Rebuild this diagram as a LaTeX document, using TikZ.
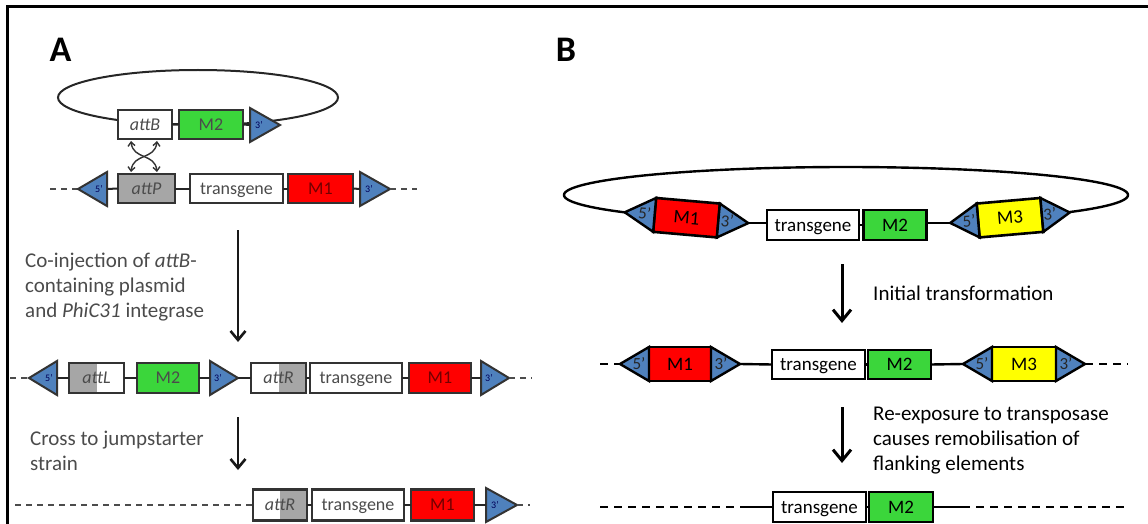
\documentclass[tikz,border=0pt]{standalone}
\usepackage{fontspec}
\setmainfont{Carlito}
\usetikzlibrary{arrows.meta,calc,shapes.geometric}
\definecolor{tblue}{RGB}{79,129,189}
\definecolor{mgreen}{RGB}{59,214,59}
\definecolor{mred}{RGB}{255,0,0}
\definecolor{myellow}{RGB}{255,255,0}
\definecolor{agray}{RGB}{166,166,166}
\definecolor{atxt}{RGB}{75,75,75}
\begin{document}
\begin{tikzpicture}[x=1pt,y=-1pt,
  boxB/.style={draw=black, line width=2.6pt, inner sep=0pt, outer sep=0pt, font=\fontsize{19}{19}\selectfont, text height=12.3pt, text depth=0pt},
  triB/.style={draw=black, line width=2.4pt, fill=tblue, line join=miter},
  tlabB/.style={inner sep=0pt, font=\fontsize{17}{17}\selectfont, text height=10.7pt, text depth=0pt, text=black!85},
  lineB/.style={line width=2.4pt},
  dashB/.style={line width=2pt, dash pattern=on 8pt off 6pt},
  arrB/.style={line width=3pt, -{Straight Barb[length=11pt,width=18pt]}},
  txt/.style={inner sep=0pt, anchor=base west, font=\fontsize{21}{25}\selectfont},
  boxA/.style={draw=black!80, line width=2.2pt, inner sep=0pt, outer sep=0pt, font=\fontsize{18}{18}\selectfont, text height=11.6pt, text depth=0pt, text=atxt},
  triA/.style={draw=black!80, line width=2pt, fill=tblue},
  tlabA/.style={inner sep=0pt, font=\fontsize{10}{10}\selectfont, text=blue!35!black},
  lineA/.style={line width=2pt, draw=black!85},
  dashA/.style={line width=1.8pt, draw=black!70, dash pattern=on 6pt off 5pt},
  arrA/.style={line width=2.6pt, draw=black!90, -{Straight Barb[length=9pt,width=15pt]}},
  grayleft/.style={path picture={\fill[agray] (path picture bounding box.south west) rectangle (path picture bounding box.north);}},
  grayright/.style={path picture={\fill[agray] (path picture bounding box.south) rectangle (path picture bounding box.north east);}},
]
\useasboundingbox (0,0) rectangle (1148,524);
% frame
\coordinate (fr0) at (7,524); \coordinate (fr1) at (7,7); \coordinate (fr2) at (1148,7);
\draw[line width=3pt] (fr0) -- (fr1) -- (fr2);
\node[font=\fontsize{36}{36}\selectfont\bfseries, inner sep=0pt] (labA) at (60.5,49.5) {A};
\node[font=\fontsize{36}{36}\selectfont\bfseries, inner sep=0pt] (labB) at (566,49.5) {B};

% ================= PANEL A =================
% plasmid
\node[draw=black!85, line width=2pt, ellipse, minimum width=280pt, minimum height=55pt, inner sep=0pt] (pAell) at (198,97.5) {};
\node[boxA, fill=white, minimum width=54pt, minimum height=29pt] (pAattb) at (145,124.5) {\textit{attB}};
\node[boxA, fill=mgreen, minimum width=64pt, minimum height=29pt] (pAm2) at (211,124.5) {M2};
\coordinate (pAt3b) at (250,125); \coordinate (pAt3) at (280,125);
\draw[triA] (250,108) -- (pAt3) -- (250,142) -- cycle;
\node[tlabA] (pAl3) at (259,125) {3’};
\draw[lineA] (pAattb.east) -- (pAm2.west);
\draw[lineA] (pAm2.east) -- (pAt3b);
% crossing arrows
\coordinate (xa1) at (131,141); \coordinate (xa2) at (157,172);
\coordinate (xb1) at (157,141); \coordinate (xb2) at (131,172);
\draw[line width=1.4pt, draw=black!80, {Straight Barb[length=4pt,width=7pt]}-{Straight Barb[length=4pt,width=7pt]}] (xa1) .. controls (133,160) and (155,153) .. (xa2);
\draw[line width=1.4pt, draw=black!80, {Straight Barb[length=4pt,width=7pt]}-{Straight Barb[length=4pt,width=7pt]}] (xb1) .. controls (155,160) and (133,153) .. (xb2);

% row A1
\coordinate (a1d0) at (50,189); \coordinate (a1t5) at (78,189); \coordinate (a1t5b) at (107,189);
\draw[dashA] (a1d0) -- (a1t5);
\draw[triA] (107,172) -- (a1t5) -- (107,206) -- cycle;
\node[tlabA] (a1l5) at (99,189) {5’};
\node[boxA, fill=agray, minimum width=57pt, minimum height=29pt] (a1attp) at (146.5,188.5) {\textit{attP}};
\node[boxA, fill=white, minimum width=93pt, minimum height=29pt] (a1tg) at (236.5,188.5) {transgene};
\node[boxA, fill=mred, minimum width=65pt, minimum height=29pt, text=red!45!black] (a1m1) at (320.5,188.5) {M1};
\coordinate (a1t3b) at (360,189); \coordinate (a1t3) at (390,189); \coordinate (a1d1) at (417,189);
\draw[triA] (360,172) -- (a1t3) -- (360,206) -- cycle;
\node[tlabA] (a1l3) at (369,189) {3’};
\draw[dashA] (a1t3) -- (a1d1);
\draw[lineA] (a1t5b) -- (a1attp.west);
\draw[lineA] (a1attp.east) -- (a1tg.west);
\draw[lineA] (a1tg.east) -- (a1m1.west);
\draw[lineA] (a1m1.east) -- (a1t3b);

% arrow A1 and text
\coordinate (aa1s) at (238,230); \coordinate (aa1e) at (238,342);
\draw[arrA] (aa1s) -- (aa1e);
\node[txt, text=atxt] (ta1) at (25,267) {Co-injection of \textit{attB}-};
\node[txt, text=atxt] (ta2) at (25,292) {containing plasmid};
\node[txt, text=atxt] (ta3) at (25,317) {and \textit{PhiC31} integrase};

% row A2
\coordinate (a2d0) at (10,378); \coordinate (a2t5) at (29,378); \coordinate (a2t5b) at (57,378);
\draw[dashA] (a2d0) -- (a2t5);
\draw[triA] (57,361) -- (a2t5) -- (57,395) -- cycle;
\node[tlabA] (a2l5) at (49,378) {5’};
\node[boxA, fill=white, grayleft, minimum width=55pt, minimum height=30pt] (a2attl) at (96.5,378) {\textit{attL}};
\node[boxA, fill=mgreen, minimum width=62pt, minimum height=30pt] (a2m2) at (168,378) {M2};
\coordinate (a2t3ab) at (210,378); \coordinate (a2t3a) at (238,378);
\draw[triA] (210,361) -- (a2t3a) -- (210,395) -- cycle;
\node[tlabA] (a2l3a) at (218,378) {3’};
\node[boxA, fill=white, grayright, minimum width=55pt, minimum height=30pt] (a2attr) at (278.5,378) {\textit{attR}};
\node[boxA, fill=white, minimum width=92pt, minimum height=30pt] (a2tg) at (356,378) {transgene};
\node[boxA, fill=mred, minimum width=62pt, minimum height=30pt, text=red!45!black] (a2m1) at (440,378) {M1};
\coordinate (a2t3bb) at (481,378); \coordinate (a2t3b) at (509,378); \coordinate (a2d1) at (532,378);
\draw[triA] (481,361) -- (a2t3b) -- (481,395) -- cycle;
\node[tlabA] (a2l3b) at (489,378) {3’};
\draw[dashA] (a2t3b) -- (a2d1);
\draw[lineA] (a2t5b) -- (a2attl.west);
\draw[lineA] (a2attl.east) -- (a2m2.west);
\draw[lineA] (a2m2.east) -- (a2t3ab);
\draw[lineA] (a2t3a) -- (a2attr.west);
\draw[lineA] (a2attr.east) -- (a2tg.west);
\draw[lineA] (a2tg.east) -- (a2m1.west);
\draw[lineA] (a2m1.east) -- (a2t3bb);

% arrow A2 and text
\coordinate (aa2s) at (238,417); \coordinate (aa2e) at (238,470);
\draw[arrA] (aa2s) -- (aa2e);
\node[txt, text=atxt] (tc1) at (30,445) {Cross to jumpstarter};
\node[txt, text=atxt] (tc2) at (30,470) {strain};

% row A3
\coordinate (a3d0) at (15,505);
\node[boxA, fill=white, grayright, minimum width=54pt, minimum height=31pt] (a3attr) at (280,505) {\textit{attR}};
\node[boxA, fill=white, minimum width=92pt, minimum height=31pt] (a3tg) at (358,505) {transgene};
\node[boxA, fill=mred, minimum width=63pt, minimum height=31pt, text=red!45!black] (a3m1) at (442.5,505) {M1};
\coordinate (a3t3b) at (486,505); \coordinate (a3t3) at (517,505); \coordinate (a3d1) at (530,505);
\draw[triA] (486,488) -- (a3t3) -- (486,522) -- cycle;
\node[tlabA] (a3l3) at (495,505) {3’};
\draw[dashA] (a3d0) -- (a3attr.west);
\draw[dashA] (a3t3) -- (a3d1);
\draw[lineA] (a3attr.east) -- (a3tg.west);
\draw[lineA] (a3tg.east) -- (a3m1.west);
\draw[lineA] (a3m1.east) -- (a3t3b);

% ================= PANEL B =================
% plasmid backbone
\draw[lineB] plot[domain=-37.4:218.4, samples=150, smooth] ({846+282*cos(\x)}, {195-28*sin(\x)});
% M1 cassette (tilted)
\begin{scope}[shift={(686.5,217.7)}, rotate=-5, transform shape]
  \node[boxB, fill=mred, minimum width=64pt, minimum height=34pt] (b1m1) at (0,0) {M1};
  \coordinate (b1m1l) at (-62,0); \coordinate (b1m1r) at (62,0);
  \draw[triB] (b1m1.north west) -- (b1m1l) -- (b1m1.south west) -- cycle;
  \draw[triB] (b1m1.north east) -- (b1m1r) -- (b1m1.south east) -- cycle;
  \node[tlabB] (b1m1a) at (-42,0) {5’};
  \node[tlabB] (b1m1b) at (41,0) {3’};
\end{scope}
% M3 cassette (tilted)
\begin{scope}[shift={(1010,217.7)}, rotate=5, transform shape]
  \node[boxB, fill=myellow, minimum width=64pt, minimum height=34pt] (b1m3) at (0,0) {M3};
  \coordinate (b1m3l) at (-60,0); \coordinate (b1m3r) at (60,0);
  \draw[triB] (b1m3.north west) -- (b1m3l) -- (b1m3.south west) -- cycle;
  \draw[triB] (b1m3.north east) -- (b1m3r) -- (b1m3.south east) -- cycle;
  \node[tlabB] (b1m3a) at (-41,0) {5’};
  \node[tlabB] (b1m3b) at (40,0) {3’};
\end{scope}
\node[boxB, fill=white, minimum width=92pt, minimum height=30pt] (b1tg) at (813,225) {transgene};
\node[boxB, fill=mgreen, minimum width=63pt, minimum height=30pt] (b1m2) at (895,225) {M2};
\draw[lineB] (b1m1r) -- (b1m1r -| b1tg.west);
\draw[lineB] (b1tg.east) -- (b1m2.west);
\draw[lineB] (b1m2.east |- b1m3l) -- (b1m3l);

% arrow B1 + text
\coordinate (ab1s) at (842,264); \coordinate (ab1e) at (842,323);
\draw[arrB] (ab1s) -- (ab1e);
\node[txt] (tb0) at (873,300) {Initial transformation};

% row B2
\coordinate (b2d0) at (600,364); \coordinate (b2d1) at (1128,364);
\node[boxB, fill=mred, minimum width=62pt, minimum height=34pt] (b2m1) at (680,364) {M1};
\coordinate (b2m1l) at (620,364); \coordinate (b2m1r) at (740,364);
\draw[triB] (b2m1.north west) -- (b2m1l) -- (b2m1.south west) -- cycle;
\draw[triB] (b2m1.north east) -- (b2m1r) -- (b2m1.south east) -- cycle;
\node[tlabB] (b2m1a) at (639,364) {5’};
\node[tlabB] (b2m1b) at (721,364) {3’};
\node[boxB, fill=white, minimum width=93pt, minimum height=29pt] (b2tg) at (818.5,364.5) {transgene};
\node[boxB, fill=mgreen, minimum width=63pt, minimum height=29pt] (b2m2) at (899.5,364.5) {M2};
\node[boxB, fill=myellow, minimum width=64pt, minimum height=34pt] (b2m3) at (1024,364) {M3};
\coordinate (b2m3l) at (963,364); \coordinate (b2m3r) at (1085,364);
\draw[triB] (b2m3.north west) -- (b2m3l) -- (b2m3.south west) -- cycle;
\draw[triB] (b2m3.north east) -- (b2m3r) -- (b2m3.south east) -- cycle;
\node[tlabB] (b2m3a) at (982,364) {5’};
\node[tlabB] (b2m3b) at (1066,364) {3’};
\draw[dashB] (b2d0) -- (b2m1l);
\draw[dashB] (b2m3r) -- (b2d1);
\draw[lineB] (b2m1r) -- (b2tg.west);
\draw[lineB] (b2tg.east) -- (b2m2.west);
\draw[lineB] (b2m2.east) -- (b2m3l);

% arrow B2 + text
\coordinate (ab2s) at (842,407); \coordinate (ab2e) at (842,463);
\draw[arrB] (ab2s) -- (ab2e);
\node[txt] (tb1) at (873,420) {Re-exposure to transposase};
\node[txt] (tb2) at (873,445) {causes remobilisation of};
\node[txt] (tb3) at (873,470) {flanking elements};

% row B3
\coordinate (b3d0) at (600,507); \coordinate (b3l) at (744,507);
\coordinate (b3r) at (962,507); \coordinate (b3d1) at (1128,507);
\node[boxB, fill=white, minimum width=93pt, minimum height=30pt] (b3tg) at (819.5,507) {transgene};
\node[boxB, fill=mgreen, minimum width=64pt, minimum height=30pt] (b3m2) at (901,507) {M2};
\draw[dashB] (b3d0) -- (b3l);
\draw[lineB] (b3l) -- (b3tg.west);
\draw[lineB] (b3tg.east) -- (b3m2.west);
\draw[lineB] (b3m2.east) -- (b3r);
\draw[dashB] (b3r) -- (b3d1);
\end{tikzpicture}
\end{document}
